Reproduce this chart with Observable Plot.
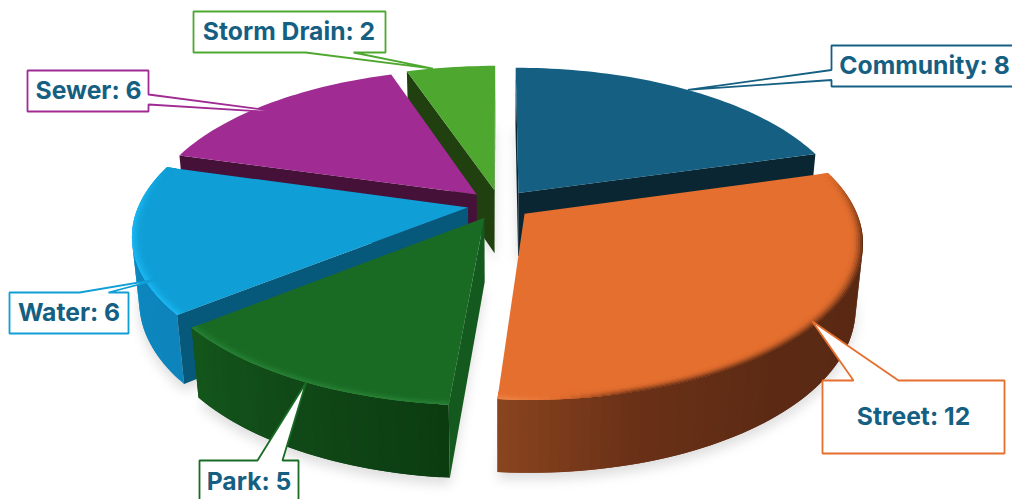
<!DOCTYPE html>
<html>
<head>
<meta charset="utf-8">
<script src="https://cdn.jsdelivr.net/npm/d3@7"></script>
<script src="https://cdn.jsdelivr.net/npm/@observablehq/plot@0.6"></script>
<style>html,body{margin:0;padding:0;background:#fff}svg{display:block}</style>
</head>
<body>
<div id="chart"></div>
<script>
// Data
const categories = ["Community", "Street", "Park", "Water", "Sewer", "Storm Drain"];
const values = [8, 12, 5, 6, 6, 2];

// Styles (separate from data)
const topColors = ["#156082", "#E56F2F", "#196B24", "#0F9ED5", "#A02B93", "#4EA72E"];
const cutColors = ["#0A2633", "#5A2A13", "#14591D", "#06597A", "#451139", "#20400F"];
const wallStops = [
  [[0, "#0A2633"], [74, "#0A2633"]],
  [[74, "#582812"], [140, "#5C2A14"], [165, "#6A3117"], [185, "#8A441F"]],
  [[185, "#0B3C10"], [200, "#0F4415"], [231, "#14561C"]],
  [[231, "#0D84BB"], [290, "#0D8CC7"]],
  [[286, "#451139"], [342, "#451139"]],
  [[342, "#20400F"], [360, "#20400F"]]
];
const rimStops = [
  null,
  [[74, "#E56F2F"], [82, "#A9521F"], [100, "#5A2A14"], [165, "#6A3216"], [176, "#E56F2F"], [185, "#F08B50"]],
  [[185, "#2A8236"], [231, "#2A8236"]],
  [[231, "#1CB8F4"], [270, "#1CB8F4"], [286, "#0F9ED5"]],
  null,
  null
];
const paintOrder = [0, 5, 4, 3, 1, 2];

// Pie geometry
const geo = {cx: 499, cy: 204, R: 329, h: 73, explode: 32, tilt: 27.2, D: 1700, bevel: 11, bands: 6};
const st = Math.sin(geo.tilt * Math.PI / 180), ct = Math.cos(geo.tilt * Math.PI / 180);
function project(X, Y, Z) {
  const v = Y * st + Z * ct, w = Y * ct - Z * st, p = 1 / (1 + w / geo.D);
  return [geo.cx + X * p, geo.cy - v * p];
}
const arcs = d3.pie().sort(null)(values);
const slices = arcs.map((a, i) => {
  const mid = (a.startAngle + a.endAngle) / 2;
  return {i, a0: a.startAngle, a1: a.endAngle, ax: geo.explode * Math.sin(mid), ay: geo.explode * Math.cos(mid)};
});
const pt = (s, th, r, z) => project(s.ax + r * Math.sin(th), s.ay + r * Math.cos(th), z);
const area = (P) => -d3.polygonArea(P);
const angles = (s) => {
  const n = Math.max(4, Math.ceil((s.a1 - s.a0) / (1.5 * Math.PI / 180)));
  return d3.range(n + 1).map((k) => s.a0 + (s.a1 - s.a0) * k / n);
};
const stopScale = (stops) => d3.scaleLinear().domain(stops.map((d) => d[0] * Math.PI / 180)).range(stops.map((d) => d[1])).clamp(true);

const rows = [], shadowRows = [];
let faceId = 0;
const addFace = (P, color, out = rows) => {
  const f = faceId++;
  P.forEach(([x, y]) => out.push({face: f, x, y, color}));
};
for (const s of slices) {
  const th = angles(s);
  addFace([[s.ax, s.ay], ...th.map((t) => [s.ax + geo.R * Math.sin(t), s.ay + geo.R * Math.cos(t)])].map(([X, Y]) => project(X, Y, -geo.h)), "#000", shadowRows);
}
for (const idx of paintOrder) {
  const s = slices[idx];
  const th = angles(s);
  const center = project(s.ax, s.ay, 0), centerB = project(s.ax, s.ay, -geo.h);
  // outer wall: each strip reaches over the next one so no seams show
  const wc = stopScale(wallStops[idx]);
  th.slice(0, -1).forEach((t0, k) => {
    const t1 = th[k + 1], t2 = th[Math.min(k + 2, th.length - 1)];
    const probe = [pt(s, t0, geo.R, 0), pt(s, t1, geo.R, 0), pt(s, t1, geo.R, -geo.h), pt(s, t0, geo.R, -geo.h)];
    if (area(probe) < 0) addFace([pt(s, t0, geo.R, 0), pt(s, t2, geo.R, 0), pt(s, t2, geo.R, -geo.h), pt(s, t0, geo.R, -geo.h)], wc((t0 + t1) / 2));
  });
  // cut faces
  const c0 = [center, pt(s, s.a0, geo.R, 0), pt(s, s.a0, geo.R, -geo.h), centerB];
  if (area(c0) < 0) addFace(c0, cutColors[idx]);
  const c1 = [center, pt(s, s.a1, geo.R, 0), pt(s, s.a1, geo.R, -geo.h), centerB];
  if (area(c1) > 0) addFace(c1, cutColors[idx]);
  // top
  addFace([center, ...th.map((t) => pt(s, t, geo.R, 0))], topColors[idx]);
  // bevel: concentric sectors painted from the rim inward
  if (rimStops[idx]) {
    const rc = stopScale(rimStops[idx]);
    for (let b = geo.bands - 1; b >= 0; b--) {
      const r0 = geo.R - geo.bevel * (1 - b / geo.bands);
      const k = Math.pow((b + 1) / geo.bands, 1.8);
      th.slice(0, -1).forEach((t0, j) => {
        const t1 = th[j + 1], t2 = th[Math.min(j + 2, th.length - 1)];
        const col = d3.interpolateRgb(topColors[idx], rc((t0 + t1) / 2))(k);
        const rOut = b === geo.bands - 1 ? geo.R : geo.R - geo.bevel * (1 - (b + 1.5) / geo.bands);
        addFace([pt(s, t0, r0, 0), pt(s, t2, r0, 0), pt(s, t2, rOut, 0), pt(s, t0, rOut, 0)], col);
      });
    }
  }
}

// Callouts: box and wedge layout, tip placed on the slice
const callouts = [
  {i: 0, box: [831, 45, 1030, 86], base: [[831, 79.5], [831, 69.5]], side: "left", tip: [0.5, 1], tx: 924, ty: 66},
  {i: 1, box: [822, 380, 1004, 453], base: [[898, 380], [853, 380]], side: "top", tip: [0.5, 0.985], tx: 913, ty: 417},
  {i: 2, box: [199, 460, 298, 520], base: [[282, 460], [257, 460]], side: "top", tip: [0.47, 1], tx: 248.5, ty: 482},
  {i: 3, box: [9, 292, 128, 333], base: [[108, 292], [79, 292]], side: "top", tip: [0.22, 0.96], tx: 68.5, ty: 313},
  {i: 4, box: [27, 70, 148, 111], base: [[148, 94], [148, 104]], side: "right", tip: [0.5, 0.88], tx: 88, ty: 91},
  {i: 5, box: [193, 11, 385, 52], base: [[353, 52], [305, 52]], side: "bottom", tip: [0.3, 1], tx: 288.5, ty: 32}
];
const calloutRows = [];
callouts.forEach((c, n) => {
  const s = slices[c.i];
  const [x0, y0, x1, y1] = c.box;
  const tip = pt(s, s.a0 + (s.a1 - s.a0) * c.tip[0], geo.R * c.tip[1], 0);
  const path = {
    top: [[x0, y0], c.base[1], tip, c.base[0], [x1, y0], [x1, y1], [x0, y1]],
    bottom: [[x0, y0], [x1, y0], [x1, y1], c.base[0], tip, c.base[1], [x0, y1]],
    left: [[x0, y0], [x1, y0], [x1, y1], [x0, y1], c.base[0], tip, c.base[1]],
    right: [[x0, y0], [x1, y0], c.base[0], tip, c.base[1], [x1, y1], [x0, y1]]
  }[c.side];
  path.forEach(([x, y]) => calloutRows.push({n, x, y, color: topColors[c.i]}));
});
const labelRows = callouts.map((c) => ({x: c.tx, y: c.ty, label: `${categories[c.i]}: ${values[c.i]}`}));

const chart = Plot.plot({
  width: 1012,
  height: 499,
  margin: 0,
  x: {domain: [0, 1012], range: [0, 1012], axis: null},
  y: {domain: [0, 499], range: [0, 499], axis: null},
  color: {type: "identity"},
  style: {background: "#fff"},
  marks: [
    Plot.line(shadowRows, {x: "x", y: "y", z: "face", fill: "#000", stroke: "none", fillOpacity: 0.13, dy: 7, imageFilter: "blur(6px)"}),
    Plot.line(rows, {x: "x", y: "y", z: "face", fill: "color", stroke: "none"}),
    Plot.line(calloutRows, {x: "x", y: "y", z: "n", fill: "#fff", stroke: "color", strokeWidth: 1.8, curve: "linear-closed", strokeLinejoin: "miter"}),
    Plot.text(labelRows, {x: "x", y: "y", text: "label", fontFamily: "Inter", fontWeight: 700, fontSize: 24.7, fill: "#156082", textAnchor: "middle"})
  ]
});
document.getElementById("chart").appendChild(chart);
</script>
</body>
</html>
